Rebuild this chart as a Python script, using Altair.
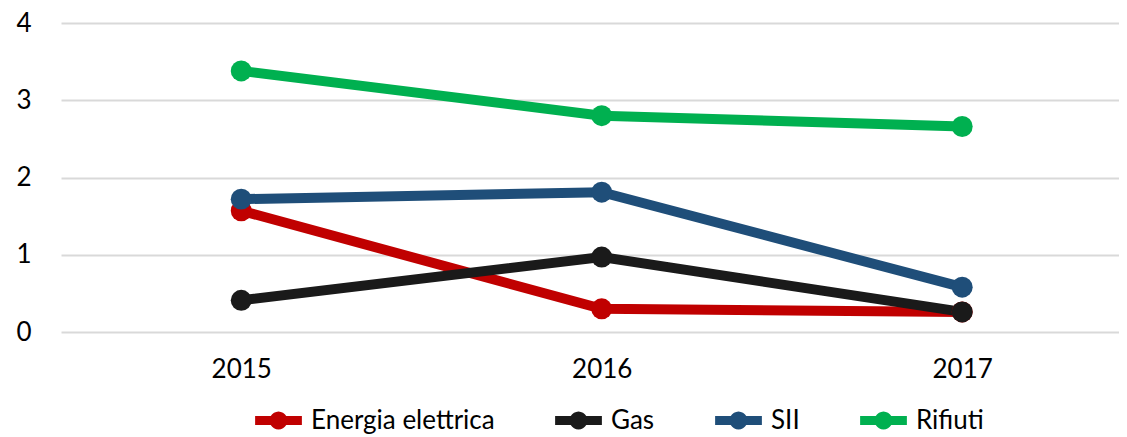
import math
import altair as alt
import pandas as pd

years = [2015, 2016, 2017]
series = ["Energia elettrica", "Gas", "SII", "Rifiuti"]
energia = [1.57, 0.30, 0.26]
gas = [0.41, 0.97, 0.26]
sii = [1.72, 1.81, 0.58]
rifiuti = [3.38, 2.80, 2.66]
colors = ["#C00000", "#1A1A1A", "#1F4E79", "#00B050"]

rows = []
for name, vals in zip(series, [energia, gas, sii, rifiuti]):
    for y, v in zip(years, vals):
        rows.append({"Anno": y, "Serie": name, "Linea": name, "Valore": v})
df = pd.DataFrame(rows)

FONT = "Lato"
# legend symbol: short stroked line with a small ring (thick stroke fills it)
circ = " ".join(
    ("M" if k == 0 else "L") + f"{0.17*math.cos(2*math.pi*k/24):.3f},{0.17*math.sin(2*math.pi*k/24):.3f}"
    for k in range(24)
)
sym = "M-0.9,0 L0.9,0 " + circ + " Z"

x = alt.X("Anno:Q",
          scale=alt.Scale(domain=[2014.5, 2017.435], nice=False, zero=False),
          axis=alt.Axis(values=years, format="d", title=None, grid=False, domain=False,
                        ticks=False, labelPadding=24, labelFontSize=26, labelFont=FONT,
                        labelColor="#000000"))
y = alt.Y("Valore:Q",
          scale=alt.Scale(domain=[0, 4], nice=False),
          axis=alt.Axis(values=[0, 1, 2, 3, 4], title=None, domain=False, ticks=False,
                        labelPadding=30, labelFontSize=26, labelFont=FONT,
                        labelColor="#000000", gridColor="#D9D9D9", gridWidth=2))

lines = alt.Chart(df).mark_line(strokeWidth=10).encode(
    x=x, y=y,
    stroke=alt.Stroke("Linea:N", scale=alt.Scale(domain=series, range=colors),
                      legend=alt.Legend(title=None, orient="none", direction="horizontal",
                                        legendX=187, legendY=367,
                                        symbolType=sym, symbolSize=2700,
                                        symbolStrokeWidth=9, labelLimit=400,
                                        labelFontSize=26, labelFont=FONT,
                                        labelColor="#000000", labelOffset=2,
                                        columnPadding=42)),
    order=alt.Order("Anno:Q"),
)

points = alt.Chart(df).mark_point(filled=True, size=440, opacity=1).encode(
    x=x, y=y,
    color=alt.Color("Serie:N", scale=alt.Scale(domain=series, range=colors), legend=None),
)

chart = alt.layer(lines, points).properties(
    width=1058, height=309,
    padding={"left": 7, "top": 2, "right": 0, "bottom": 0},
).configure_view(stroke=None)

chart.save("out.html", embed_options={"renderer": "svg", "actions": False})
